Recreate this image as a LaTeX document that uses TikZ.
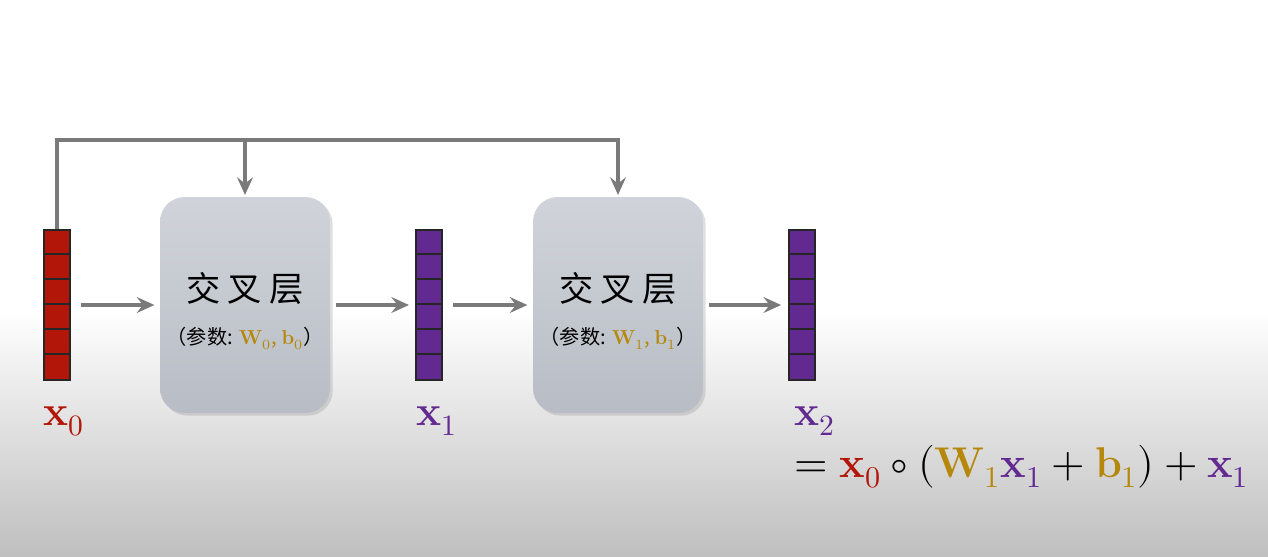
\documentclass[tikz,border=0pt]{standalone}
\usepackage{fontspec}
\usepackage{unicode-math}
\setmathfont{Latin Modern Math}
\newfontfamily\cjk{Noto Sans CJK SC}
\usetikzlibrary{arrows.meta,shadows}

\definecolor{xred}{RGB}{178,22,8}
\definecolor{xpurple}{RGB}{98,42,145}
\definecolor{pgold}{RGB}{181,136,12}
\definecolor{flowgray}{RGB}{122,122,122}
\definecolor{layertop}{RGB}{208,212,218}
\definecolor{layerbot}{RGB}{184,188,196}

\tikzset{
  vecbox/.style={draw=black!85, line width=1pt, minimum width=0.52cm, minimum height=3cm, inner sep=0pt},
  layer/.style={rounded corners=14pt, minimum width=3.4cm, minimum height=4.32cm,
    top color=layertop, bottom color=layerbot,
    drop shadow={opacity=0.25, shadow xshift=1.5pt, shadow yshift=-1.5pt}},
  flow/.style={-{Stealth[length=10pt,width=9pt,inset=3.5pt]}, flowgray, line width=2.2pt},
  title/.style={font=\cjk\fontsize{19.5}{22}\selectfont, inner sep=0pt},
  param/.style={font=\cjk\fontsize{11.5}{13}\selectfont, inner sep=0pt},
  vlabel/.style={font=\fontsize{24}{28}\selectfont, anchor=base west, inner sep=0pt}
}

\begin{document}
\begin{tikzpicture}[x=0.02cm, y=-0.02cm]
    \useasboundingbox (0,0) rectangle (1268,556);
    % Background
    \fill[white] (0,0) rectangle (1268,310);
    \shade[top color=white, bottom color=black!25] (0,310) rectangle (1268,556);

    % Vectors
    \node[vecbox, fill=xred] (v0) at (57,305) {};
    \node[vecbox, fill=xpurple] (v1) at (429,305) {};
    \node[vecbox, fill=xpurple] (v2) at (802,305) {};
    \foreach \v in {v0,v1,v2}
        \foreach \k in {1,...,5}
            \draw[black!85, line width=1pt] ([yshift=-\k*0.5cm]\v.north west) -- ([yshift=-\k*0.5cm]\v.north east);

    % Cross layers
    \node[layer] (b1) at (245,305) {};
    \node[layer] (b2) at (618,305) {};
    \node[title] (t1) at (245,288) {交\hspace{4pt}叉\hspace{4pt}层};
    \node[title] (t2) at (618,288) {交\hspace{4pt}叉\hspace{4pt}层};
    \node[param] (p1) at (245,338) {（参数: \textcolor{pgold}{$\mathbf{W}_0$, $\mathbf{b}_0$}）};
    \node[param] (p2) at (618,338) {（参数: \textcolor{pgold}{$\mathbf{W}_1$, $\mathbf{b}_1$}）};

    % Forward arrows
    \draw[flow, shorten <=5.5pt, shorten >=3pt] (v0) -- (b1);
    \draw[flow, shorten <=3pt, shorten >=3.5pt] (b1) -- (v1);
    \draw[flow, shorten <=6pt, shorten >=3pt] (v1) -- (b2);
    \draw[flow, shorten <=3pt, shorten >=4pt] (b2) -- (v2);

    % x0 feeds every layer
    \coordinate (bus) at (0,140);
    \draw[flow, shorten >=1pt] (v0.north) -- (v0.north |- bus) -| (b2.north);
    \draw[flow, shorten >=1pt] (b1.north |- bus) -- (b1.north);

    % Labels
    \node[vlabel, text=xred] (l0) at (43,425) {$\mathbf{x}_0$};
    \node[vlabel, text=xpurple] (l1) at (416,425) {$\mathbf{x}_1$};
    \node[vlabel, text=xpurple] (l2) at (794,425) {$\mathbf{x}_2$};
    \node[vlabel, font=\fontsize{24.5}{29}\selectfont] (eq) at (794,477) {$=\textcolor{xred}{\mathbf{x}_0}\circ(\textcolor{pgold}{\mathbf{W}_1}\textcolor{xpurple}{\mathbf{x}_1}+\textcolor{pgold}{\mathbf{b}_1})+\textcolor{xpurple}{\mathbf{x}_1}$};
\end{tikzpicture}
\end{document}
